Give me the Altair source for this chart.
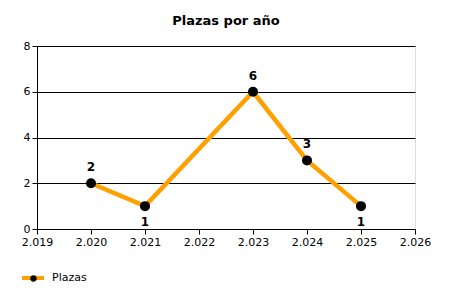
import altair as alt
import pandas as pd

years = [2020, 2021, 2023, 2024, 2025]
plazas = [2, 1, 6, 3, 1]
series = ["Plazas"] * len(years)

# label placement: below when lower than all neighbours
side = []
for i, v in enumerate(plazas):
    nb = []
    if i > 0:
        nb.append(plazas[i - 1])
    if i < len(plazas) - 1:
        nb.append(plazas[i + 1])
    side.append("below" if all(v < n for n in nb) else "above")

df = pd.DataFrame({"Año": years, "Plazas": plazas, "Serie": series, "side": side})

FONT = "DejaVu Sans"

x = alt.X(
    "Año:Q",
    scale=alt.Scale(domain=[2019, 2026], nice=False, zero=False),
    axis=alt.Axis(
        values=list(range(2019, 2027)),
        labelExpr="replace(format(datum.value, ','), ',', '.')",
        title=None,
        grid=False,
        domainColor="black",
        tickColor="black",
        tickSize=5,
        labelColor="black",
        labelFont=FONT,
        labelFontSize=11,
        labelPadding=2,
        labelFlush=False,
    ),
)
y = alt.Y(
    "Plazas:Q",
    scale=alt.Scale(domain=[0, 8], nice=False),
    axis=alt.Axis(
        values=[0, 2, 4, 6, 8],
        title=None,
        grid=True,
        gridColor="black",
        gridOpacity=1,
        domainColor="black",
        tickColor="black",
        tickSize=5,
        labelColor="black",
        labelFont=FONT,
        labelFontSize=11,
        labelPadding=2,
    ),
)

base = alt.Chart(df)

line = base.mark_line(strokeWidth=4.5).encode(
    x=x,
    y=y,
    color=alt.Color(
        "Serie:N",
        scale=alt.Scale(domain=["Plazas"], range=["#FFA000"]),
        legend=alt.Legend(
            title=None,
            orient="none",
            legendX=-17,
            legendY=219,
            symbolType="stroke",
            symbolSize=484,
            symbolStrokeWidth=4,
            labelFont=FONT,
            labelFontSize=11,
            labelColor="black",
            labelOffset=6,
        ),
    ),
)

points = base.mark_point(filled=True, size=100, opacity=1, color="black").encode(
    x=x,
    y=y,
    shape=alt.Shape(
        "Serie:N",
        scale=alt.Scale(domain=["Plazas"], range=["circle"]),
        legend=alt.Legend(
            title=None,
            orient="none",
            legendX=-9,
            legendY=227,
            symbolSize=40,
            symbolFillColor="black",
            symbolStrokeColor="black",
            symbolStrokeWidth=0,
            labelExpr="''",
            labelFontSize=11,
        ),
    ),
)

labels_above = base.transform_filter("datum.side == 'above'").mark_text(
    dy=-16, fontWeight="bold", fontSize=12, font=FONT, color="black"
).encode(x=x, y=y, text="Plazas:Q")

labels_below = base.transform_filter("datum.side == 'below'").mark_text(
    dy=16, fontWeight="bold", fontSize=12, font=FONT, color="black"
).encode(x=x, y=y, text="Plazas:Q")

chart = (
    alt.layer(line, points, labels_above, labels_below)
    .resolve_legend(color="independent", shape="independent")
    .properties(
        width=378,
        height=183,
        autosize=alt.AutoSizeParams(type="none"),
        padding={"left": 37, "top": 46, "right": 35, "bottom": 71},
        title=alt.TitleParams(
            "Plazas por año",
            font=FONT,
            fontSize=13,
            fontWeight="bold",
            color="black",
            anchor="middle",
            offset=12,
        ),
    )
    .configure_view(stroke=None)
    .configure(background="white")
)

chart.save("out.html", embed_options={"renderer": "svg", "actions": False})
